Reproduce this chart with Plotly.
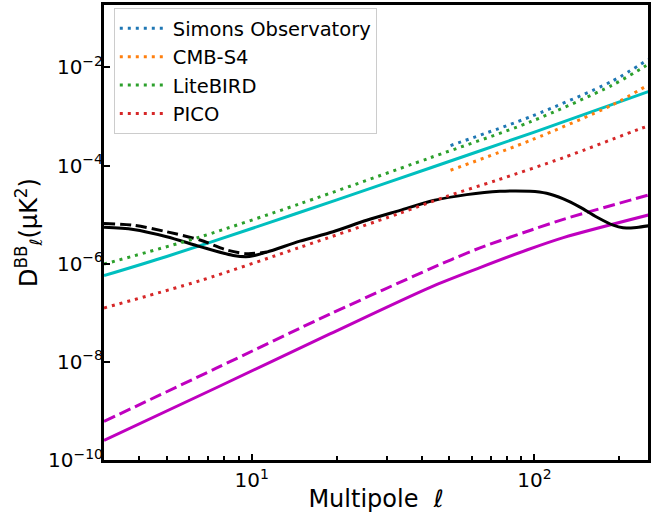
import plotly.graph_objects as go

# ---------------- data ----------------
ell_lens = [3, 3.81, 5, 6.56, 8.6, 9.8, 11.3, 14.8, 19.4, 25.5, 33.5, 43.9, 57.6, 75.5,
            96.5, 110.5, 126.6, 145, 166, 190, 206, 230, 253]
dl_lens = [5.5e-6, 4.97e-6, 3.54e-6, 2.23e-6, 1.47e-6, 1.40e-6, 1.72e-6, 2.87e-6, 4.47e-6,
           7.66e-6, 1.22e-5, 1.93e-5, 2.55e-5, 2.98e-5, 2.98e-5, 2.71e-5, 2.09e-5, 1.42e-5,
           8.93e-6, 6.08e-6, 5.37e-6, 5.47e-6, 5.9e-6]

ell_lens_dash = [3, 3.81, 5, 6.56, 8.14, 9.6, 11.3]
dl_lens_dash = [6.58e-6, 6.08e-6, 4.47e-6, 3.03e-6, 1.91e-6, 1.60e-6, 1.72e-6]

ell_cyan = [3, 5, 10, 20, 43, 100, 253]
dl_cyan = [5.7e-7, 1.4e-6, 5.2e-6, 2.0e-5, 9.0e-5, 4.8e-4, 3.2e-3]

ell_mag_dash = [3, 7.52, 18.9, 48.9, 64.2, 97, 126.6, 253]
dl_mag_dash = [6.1e-10, 7.5e-9, 9.4e-8, 1.1e-6, 2.1e-6, 4.8e-6, 8.0e-6, 2.5e-5]

ell_mag = [3, 7.52, 18.9, 42.8, 64.2, 94, 126.6, 253]
dl_mag = [2.5e-10, 3.0e-9, 3.7e-8, 3.3e-7, 8.3e-7, 1.9e-6, 3.4e-6, 9.8e-6]

ell_so = [50.5, 97, 188, 253]
dl_so = [2.55e-4, 9.9e-4, 5.2e-3, 1.45e-2]

ell_s4 = [50.5, 97, 188, 253]
dl_s4 = [8.0e-5, 3.26e-4, 1.7e-3, 4.4e-3]

ell_lb = [3, 6.56, 14.8, 42.8, 97, 188, 243, 253]
dl_lb = [9.8e-7, 3.5e-6, 1.66e-5, 1.44e-4, 7.8e-4, 4.3e-3, 1.0e-2, 1.15e-2]

ell_pico = [3, 6.56, 14.8, 33.5, 48.9, 73.6, 126.5, 236.6, 253]
dl_pico = [1.25e-7, 4.5e-7, 2.15e-6, 1.07e-5, 2.35e-5, 5.0e-5, 1.44e-4, 5.6e-4, 6.4e-4]

labels = ["Simons Observatory", "CMB-S4", "LiteBIRD", "PICO"]

# ---------------- figure ----------------
FONT = "DejaVu Sans"
fig = go.Figure()

def add(x, y, color, dash, name=None, width=3, shape="spline"):
    fig.add_trace(go.Scatter(
        x=x, y=y, mode="lines", name=name, showlegend=name is not None,
        line=dict(color=color, width=width, dash=dash, shape=shape, smoothing=0.8)))

add(ell_cyan, dl_cyan, "#00BFBF", "solid")
add(ell_mag_dash, dl_mag_dash, "#BF00BF", "12px,5px")
add(ell_mag, dl_mag, "#BF00BF", "solid")
add(ell_lens_dash, dl_lens_dash, "black", "11px,5px")
add(ell_lens, dl_lens, "black", "solid")
add(ell_so, dl_so, "#1f77b4", "3px,5px", labels[0])
add(ell_s4, dl_s4, "#ff7f0e", "3px,5px", labels[1])
add(ell_lb, dl_lb, "#2ca02c", "3px,5px", labels[2])
add(ell_pico, dl_pico, "#d62728", "3px,5px", labels[3])

x_minor = [4, 5, 6, 7, 8, 9, 20, 30, 40, 50, 60, 70, 80, 90, 200]

fig.update_layout(
    width=665, height=513,
    margin=dict(l=104, r=17, t=2, b=50),
    plot_bgcolor="white", paper_bgcolor="white",
    font=dict(family=FONT, color="black", size=20),
    showlegend=True,
    legend=dict(x=0.018, y=0.993, xanchor="left", yanchor="top",
                bgcolor="rgba(255,255,255,0.8)", bordercolor="#cccccc", borderwidth=1,
                font=dict(family=FONT, size=19.5), itemwidth=48),
    xaxis=dict(type="log", range=[0.4771, 2.402], showgrid=False, zeroline=False,
               showline=True, linecolor="black", linewidth=3, mirror=True,
               ticks="inside", ticklen=6, tickwidth=2, tickcolor="black",
               tickmode="array", tickvals=[10, 100],
               ticktext=["10<sup>1</sup>", "10<sup>2</sup>"],
               tickfont=dict(family=FONT, size=20),
               minor=dict(ticks="inside", ticklen=4, tickwidth=1.5, tickcolor="black",
                          tickmode="array", tickvals=x_minor, showgrid=False),
               title=dict(text="Multipole  <i>ℓ</i>", font=dict(family=FONT, size=24),
                          standoff=2)),
    yaxis=dict(type="log", range=[-10, -0.73], showgrid=False, zeroline=False,
               showline=True, linecolor="black", linewidth=3, mirror=True,
               ticks="inside", ticklen=6, tickwidth=2, tickcolor="black",
               tickmode="array", tickvals=[1e-10, 1e-8, 1e-6, 1e-4, 1e-2],
               ticktext=["10<sup>−10</sup>", "10<sup>−8</sup>", "10<sup>−6</sup>",
                         "10<sup>−4</sup>", "10<sup>−2</sup>"],
               tickfont=dict(family=FONT, size=20), ticklabelstandoff=-6,
               title=dict(text="D<sup>BB</sup><sub><i>ℓ</i></sub>(μK<sup>2</sup>)",
                          font=dict(family=FONT, size=24), standoff=4)),
)

fig.write_html("out.html")
